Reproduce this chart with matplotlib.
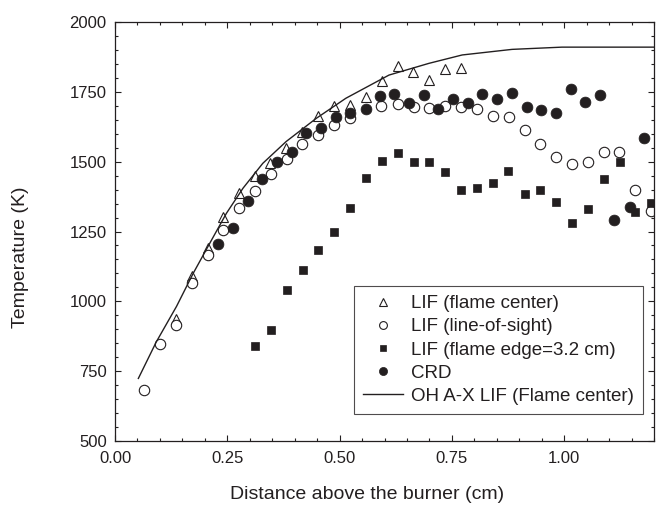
"""Flame temperature profiles: LIF, CRD and OH A-X LIF."""

import matplotlib

matplotlib.use("Agg")
import matplotlib.pyplot as plt
from matplotlib.ticker import MultipleLocator

plt.rcParams["font.family"] = ["Liberation Sans", "DejaVu Sans"]

INK = "#231f20"

# LIF (flame center)
tri_x = [0.136, 0.171, 0.206, 0.241, 0.276, 0.311, 0.346, 0.381, 0.417, 0.453,
         0.488, 0.523, 0.558, 0.594, 0.629, 0.664, 0.700, 0.735, 0.771]
tri_y = [935, 1091, 1190, 1303, 1387, 1450, 1496, 1548, 1607, 1665,
         1700, 1702, 1730, 1789, 1844, 1820, 1792, 1832, 1837]

# LIF (line-of-sight)
circ_x = [0.064, 0.101, 0.135, 0.171, 0.206, 0.241, 0.277, 0.311, 0.348, 0.382,
          0.417, 0.453, 0.488, 0.524, 0.593, 0.629, 0.665, 0.700, 0.735, 0.771,
          0.805, 0.841, 0.877, 0.912, 0.947, 0.982, 1.018, 1.052, 1.088, 1.123,
          1.158, 1.193]
circ_y = [681, 846, 914, 1066, 1167, 1255, 1333, 1396, 1457, 1508,
          1562, 1596, 1631, 1655, 1698, 1707, 1697, 1693, 1699, 1697,
          1687, 1664, 1660, 1612, 1563, 1518, 1493, 1500, 1536, 1535,
          1400, 1325]

# LIF (flame edge=3.2 cm)
sq_x = [0.312, 0.348, 0.382, 0.418, 0.452, 0.488, 0.524, 0.558, 0.594, 0.630,
        0.665, 0.700, 0.735, 0.771, 0.805, 0.842, 0.876, 0.912, 0.947, 0.982,
        1.018, 1.052, 1.088, 1.124, 1.158, 1.193]
sq_y = [840, 897, 1041, 1113, 1184, 1249, 1334, 1442, 1501, 1532,
        1500, 1498, 1462, 1400, 1407, 1423, 1468, 1383, 1397, 1356,
        1282, 1331, 1438, 1500, 1319, 1351]

# CRD
crd_x = [0.229, 0.262, 0.295, 0.328, 0.361, 0.393, 0.426, 0.459, 0.491, 0.524,
         0.558, 0.589, 0.622, 0.655, 0.687, 0.720, 0.753, 0.785, 0.818, 0.850,
         0.884, 0.917, 0.949, 0.982, 1.015, 1.047, 1.080, 1.112, 1.146, 1.177]
crd_y = [1207, 1264, 1359, 1437, 1498, 1535, 1602, 1622, 1661, 1673,
         1689, 1734, 1741, 1711, 1739, 1687, 1723, 1711, 1741, 1724,
         1745, 1697, 1685, 1673, 1759, 1713, 1738, 1292, 1339, 1585]

# OH A-X LIF (Flame center)
oh_x = [0.052, 0.092, 0.137, 0.174, 0.211, 0.248, 0.285, 0.329, 0.381, 0.448,
        0.514, 0.610, 0.699, 0.773, 0.884, 0.995, 1.20]
oh_y = [724, 855, 982, 1100, 1208, 1315, 1405, 1494, 1572, 1655,
        1727, 1810, 1852, 1882, 1902, 1910, 1910]

fig = plt.figure(figsize=(6.56, 5.07), dpi=100)
ax = fig.add_axes([115 / 656, 1 - 441 / 507, 539 / 656, 419 / 507])

ax.plot(tri_x, tri_y, ls="none", marker="^", ms=7.5, mfc="white", mec=INK,
        mew=0.8, label="LIF (flame center)")
ax.plot(circ_x, circ_y, ls="none", marker="o", ms=7.5, mfc="white", mec=INK,
        mew=0.8, label="LIF (line-of-sight)")
ax.plot(sq_x, sq_y, ls="none", marker="s", ms=6, mfc=INK, mec=INK,
        mew=0.5, label="LIF (flame edge=3.2 cm)")
ax.plot(crd_x, crd_y, ls="none", marker="o", ms=7.8, mfc=INK, mec=INK,
        mew=0.5, label="CRD")
ax.plot(oh_x, oh_y, color=INK, lw=1.0, label="OH A-X LIF (Flame center)")

ax.set_xlim(0, 1.2)
ax.set_ylim(500, 2000)
ax.xaxis.set_minor_locator(MultipleLocator(0.05))
ax.yaxis.set_major_locator(MultipleLocator(250))
ax.yaxis.set_minor_locator(MultipleLocator(50))
ax.set_xticks([0, 0.25, 0.5, 0.75, 1.0])
ax.set_xticklabels(["0.00", "0.25", "0.50", "0.75", "1.00"])

ax.tick_params(which="both", direction="in", top=True, right=True,
               colors=INK, labelsize=12, width=0.8)
ax.tick_params(which="major", length=4.5)
ax.tick_params(which="minor", length=2.5)
ax.tick_params(axis="x", pad=7)
ax.tick_params(axis="y", pad=6)
for s in ax.spines.values():
    s.set_color(INK)
    s.set_linewidth(0.9)

ax.set_xlabel("Distance above the burner (cm)", fontsize=14, color=INK)
ax.set_ylabel("Temperature (K)", fontsize=14, color=INK)
ax.xaxis.set_label_coords(0.468, -0.107)
ax.yaxis.set_label_coords(-0.160, 0.439)

leg = ax.legend(loc="lower right", bbox_to_anchor=(0.980, 0.064),
                borderaxespad=0, fontsize=13.5, frameon=True, fancybox=False,
                markerscale=0.75, handlelength=2.1, handletextpad=0.45,
                labelspacing=0.32, borderpad=0.5)
leg.get_frame().set_edgecolor(INK)
leg.get_frame().set_linewidth(0.8)
for t in leg.get_texts():
    t.set_color(INK)

fig.savefig("out.png", dpi=100)
